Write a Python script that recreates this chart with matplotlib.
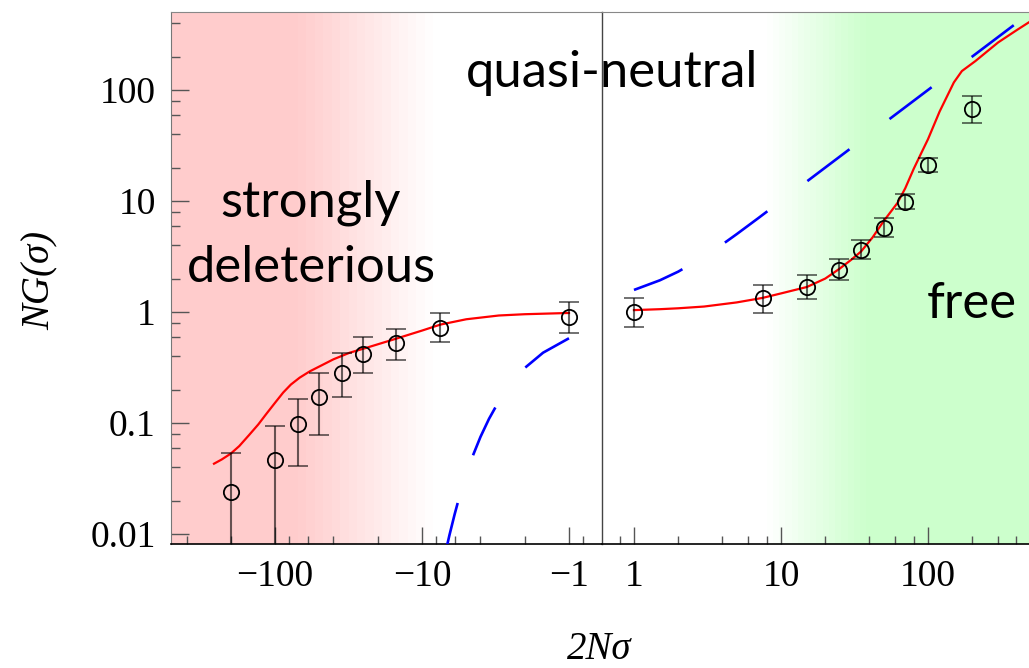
import numpy as np
import matplotlib
matplotlib.use("Agg")
import matplotlib.pyplot as plt
from matplotlib.ticker import FixedLocator, FixedFormatter, NullFormatter

# -----------------------------
# data: x = 2N*sigma, y = NG(sigma)
# -----------------------------
neg_x = [-200, -100, -70, -50, -35, -25, -15, -7.5, -1]
neg_y = [0.024, 0.046, 0.098, 0.17, 0.28, 0.42, 0.53, 0.72, 0.90]
neg_lo = [0.001, 0.001, 0.041, 0.078, 0.17, 0.28, 0.37, 0.54, 0.65]
neg_hi = [0.054, 0.094, 0.165, 0.28, 0.43, 0.60, 0.70, 0.98, 1.23]

pos_x = [1, 7.5, 15, 25, 35, 50, 70, 100, 200]
pos_y = [1.0, 1.34, 1.68, 2.39, 3.6, 5.7, 9.8, 21, 67]
pos_lo = [0.73, 0.98, 1.31, 1.94, 3.0, 4.7, 8.5, 18.3, 50]
pos_hi = [1.34, 1.75, 2.15, 3.0, 4.45, 7.0, 11.6, 24.5, 88]

# fitted curve (red)
fit_neg_x = [-260, -230, -200, -175, -150, -130, -115, -100, -88, -78, -68, -58,
             -49, -40, -31, -24, -15, -10, -7.5, -5, -3, -2, -1]
fit_neg_y = [0.043, 0.047, 0.053, 0.062, 0.078, 0.097, 0.12, 0.152, 0.188, 0.222,
             0.256, 0.292, 0.327, 0.375, 0.43, 0.475, 0.575, 0.68, 0.77, 0.86,
             0.93, 0.955, 0.98]
fit_pos_x = [1, 1.5, 2, 3, 5, 7.5, 10, 15, 20, 25, 30, 35, 42, 50, 62, 70, 80,
             90, 100, 120, 150, 170, 190, 210, 250, 300, 400, 490]
fit_pos_y = [1.04, 1.06, 1.08, 1.12, 1.22, 1.34, 1.47, 1.68, 2.0, 2.45, 2.95, 3.5,
             4.7, 6.6, 9.6, 13, 19.5, 27, 36, 64, 117, 148, 165, 182, 220, 268,
             345, 410]

# neutral expectation (blue dashed)
neu_neg_x = [-1, -1.5, -2, -2.5, -3, -3.5, -4, -4.5, -5, -5.5, -6, -6.5, -7]
neu_neg_y = [0.58, 0.43, 0.313, 0.224, 0.157, 0.109, 0.075, 0.051, 0.034, 0.023,
             0.015, 0.0098, 0.0064]
neu_pos_x = [1, 1.5, 2, 3, 4, 5, 7, 10, 20, 50, 100, 200, 390]
neu_pos_y = [1.58, 1.93, 2.31, 3.16, 4.07, 5.03, 7.0, 10, 20, 50, 100, 200, 390]

W, H = 1029, 668
fig = plt.figure(figsize=(W / 100, H / 100), dpi=100)

x0, x_mid, y_top, y_bot = 171, 602, 12, 544
ax_l = fig.add_axes([x0 / W, 1 - y_bot / H, (x_mid - x0) / W, (y_bot - y_top) / H])
ax_r = fig.add_axes([x_mid / W, 1 - y_bot / H, (W - x_mid) / W, (y_bot - y_top) / H],
                    sharey=ax_l)

RED_BG = np.array([1.0, 0.8, 0.8])
GREEN_BG = np.array([0.8, 1.0, 0.8])
WHITE = np.array([1.0, 1.0, 1.0])


def bands(ax, a, b, color, n, fade_out):
    edges = np.geomspace(a, b, n + 1)
    for i in range(n):
        f = (i + 0.5) / n
        if fade_out:
            f = 1 - f
        c = WHITE * (1 - f) + color * f
        ax.axvspan(edges[i], edges[i + 1], color=c, lw=0, zorder=0)


# left panel: plotted against |x| on an inverted log axis
ax_l.set_xscale("log")
ax_l.set_yscale("log")
ax_l.axvspan(1000, 70, color=RED_BG, lw=0, zorder=0)
bands(ax_l, 70, 8.4, RED_BG, 16, True)

ax_l.plot(-np.array(fit_neg_x), fit_neg_y, color="red", lw=1.6, zorder=3)
ax_l.plot(-np.array(neu_neg_x), neu_neg_y, color="blue", lw=1.9, zorder=3,
          dashes=(20, 19))
ny = np.array(neg_y)
ax_l.errorbar(-np.array(neg_x), ny, yerr=[ny - np.array(neg_lo), np.array(neg_hi) - ny],
              fmt="o", mfc="none", mec="black", ms=11, mew=1.3,
              ecolor=(0, 0, 0, 0.6), elinewidth=1.5, capsize=7.5, capthick=1.5, zorder=4)
ax_l.set_xlim(510, 0.596)
ax_l.set_ylim(0.00813, 504)

# right panel
ax_r.set_xscale("log")
bands(ax_r, 8, 38, GREEN_BG, 16, False)
ax_r.axvspan(38, 1000, color=GREEN_BG, lw=0, zorder=0)
ax_r.plot(fit_pos_x, fit_pos_y, color="red", lw=1.6, zorder=3)
ax_r.plot(neu_pos_x, neu_pos_y, color="blue", lw=1.9, zorder=3, dashes=(20, 19))
py = np.array(pos_y)
ax_r.errorbar(pos_x, py, yerr=[py - np.array(pos_lo), np.array(pos_hi) - py],
              fmt="o", mfc="none", mec="black", ms=11, mew=1.3,
              ecolor=(0, 0, 0, 0.6), elinewidth=1.5, capsize=7.5, capthick=1.5, zorder=4)
ax_r.set_xlim(0.606, 486.6)

# ticks
tick_font = {"family": "Liberation Serif", "size": 27}
for ax in (ax_l, ax_r):
    ax.xaxis.set_major_locator(FixedLocator([1, 10, 100]))
    ax.tick_params(axis="x", which="major", direction="in", length=12, width=1,
                   color="#555555", pad=11, top=False)
    ax.tick_params(axis="x", which="minor", direction="in", length=5.8, width=1,
                   color="#555555", top=False)
    ax.spines["top"].set_color("#888888")
    ax.spines["bottom"].set_color("black")
    ax.spines["bottom"].set_linewidth(1.2)

ax_l.xaxis.set_minor_locator(FixedLocator([0.8, 2, 4, 6, 8, 20, 40, 60, 80, 200, 400]))
ax_r.xaxis.set_minor_locator(FixedLocator([0.8, 2, 4, 6, 8, 20, 40, 60, 80, 200, 300, 400]))
ax_l.xaxis.set_major_formatter(FixedFormatter(["\u22121", "\u221210", "\u2212100"]))
ax_r.xaxis.set_major_formatter(FixedFormatter(["1", "10", "100"]))
for ax in (ax_l, ax_r):
    ax.xaxis.set_minor_formatter(NullFormatter())
    for lab in ax.get_xticklabels():
        lab.set_fontfamily(tick_font["family"])
        lab.set_fontsize(tick_font["size"])

y_major = [0.01, 0.1, 1, 10, 100]
y_minor = [m * d for d in [0.01, 0.1, 1, 10] for m in (2, 4, 6, 8)] + [200, 400]
ax_l.yaxis.set_major_locator(FixedLocator(y_major))
ax_l.yaxis.set_minor_locator(FixedLocator(y_minor))
ax_l.yaxis.set_major_formatter(FixedFormatter(["0.01", "0.1", "1", "10", "100"]))
ax_l.yaxis.set_minor_formatter(NullFormatter())
ax_l.tick_params(axis="y", which="major", direction="in", length=13, width=1,
                 color="#555555", pad=11, right=False)
ax_l.tick_params(axis="y", which="minor", direction="in", length=6.5, width=1,
                 color="#555555", right=False)
for lab in ax_l.get_yticklabels():
    lab.set_fontfamily(tick_font["family"])
    lab.set_fontsize(tick_font["size"])

# divider between the two halves is the right panel's left spine
ax_l.spines["left"].set_color("#777777")
ax_l.spines["right"].set_visible(False)
ax_r.spines["left"].set_color("#444444")
ax_r.spines["left"].set_linewidth(1.0)
ax_r.spines["right"].set_visible(False)
ax_r.tick_params(axis="y", which="both", left=False, right=False, labelleft=False)

# axis labels
fig.text(40 / W, 1 - 280 / H, "NG(\u03c3)", rotation=90, ha="center", va="center",
         fontfamily="Liberation Serif", fontstyle="italic", fontsize=28)
fig.text(599 / W, 1 - 659 / H, "2N\u03c3", ha="center", va="baseline",
         fontfamily="Liberation Serif", fontstyle="italic", fontsize=28)

# region labels
region_font = dict(fontfamily="Lato", fontsize=36.5, ha="center", va="baseline", zorder=5)
fig.text(311 / W, 1 - 217 / H, "strongly", **region_font)
fig.text(311 / W, 1 - 282 / H, "deleterious", **region_font)
fig.text(612 / W, 1 - 87 / H, "quasi-neutral", **region_font)
fig.text(972 / W, 1 - 318 / H, "free", **region_font)

fig.savefig("out.png", dpi=100)
